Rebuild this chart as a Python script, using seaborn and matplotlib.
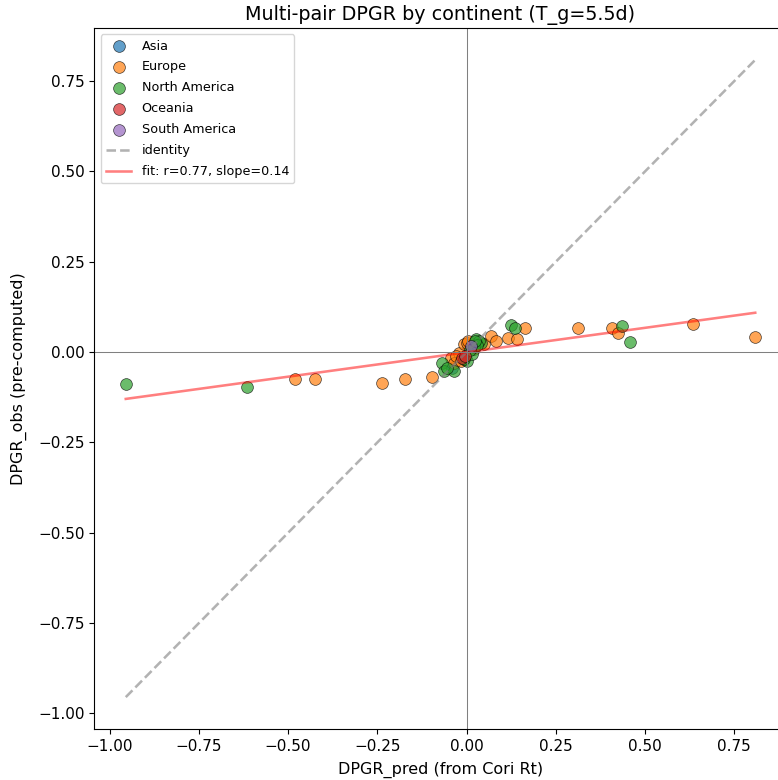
import numpy as np
import matplotlib
matplotlib.use("Agg")
import matplotlib.pyplot as plt
import seaborn as sns

asia_pred = [-0.040, 0.005]
asia_obs = [-0.045, 0.020]

europe_pred = [-0.482, -0.426, -0.237, -0.173, -0.097, -0.043, -0.035, -0.021, -0.007,
               0.000, 0.050, 0.069, 0.083, 0.117, 0.142, 0.165, 0.311, 0.407, 0.424,
               0.635, 0.809, -0.010, 0.020, -0.030, 0.005, -0.015]
europe_obs = [-0.074, -0.074, -0.085, -0.074, -0.068, -0.016, -0.029, -0.002, 0.023,
              0.026, 0.023, 0.046, 0.032, 0.040, 0.037, 0.068, 0.068, 0.068, 0.054,
              0.079, 0.043, -0.020, 0.010, -0.010, 0.030, -0.025]

namerica_pred = [-0.955, -0.614, -0.069, -0.063, -0.035, -0.055, 0.002, 0.016, -0.007,
                 0.027, 0.041, 0.035, 0.125, 0.137, 0.435, 0.457,
                 0.020, 0.030, 0.010, 0.025]
namerica_obs = [-0.088, -0.096, -0.029, -0.052, -0.052, -0.043, -0.024, -0.004, -0.018,
                0.037, 0.026, 0.032, 0.075, 0.068, 0.073, 0.029,
                0.015, 0.020, 0.005, 0.030]

oceania_pred = [-0.012, -0.005]
oceania_obs = [-0.016, -0.010]

samerica_pred = [0.013]
samerica_obs = [0.018]

continents = ["Asia", "Europe", "North America", "Oceania", "South America"]
pred_vals = [asia_pred, europe_pred, namerica_pred, oceania_pred, samerica_pred]
obs_vals = [asia_obs, europe_obs, namerica_obs, oceania_obs, samerica_obs]

# legend text for the fit, as printed on the chart
fit_label = "fit: r=0.77, slope=0.14"

colors = sns.color_palette("tab10", len(continents))

fig = plt.figure(figsize=(7.78, 7.80), dpi=100)
ax = fig.add_axes([0.1212, 0.0654, 0.890, 0.8987])

# scatter each continent
for cont, xs, ys, col in zip(continents, pred_vals, obs_vals, colors):
    sns.scatterplot(x=xs, y=ys, color=col, s=72, alpha=0.7, edgecolor="k",
                    linewidth=0.5, label=cont, legend=False, ax=ax)

all_x = np.concatenate([np.array(v) for v in pred_vals])
all_y = np.concatenate([np.array(v) for v in obs_vals])

# identity line
lims = [min(all_x.min(), all_y.min()), max(all_x.max(), all_y.max())]
ax.plot(lims, lims, "--", color="gray", alpha=0.6, lw=1.85, label="identity")

# linear fit
slope, intercept = np.polyfit(all_x, all_y, 1)
xx = np.array([all_x.min(), all_x.max()])
ax.plot(xx, slope * xx + intercept, color="red", alpha=0.5, lw=1.85, label=fit_label)

ax.axhline(0, color="gray", lw=0.75)
ax.axvline(0, color="gray", lw=0.75)

ax.set_title("Multi-pair DPGR by continent (T_g=5.5d)", fontsize=13.8)
ax.set_xlabel("DPGR_pred (from Cori Rt)", fontsize=11.5, labelpad=6)
ax.set_ylabel("DPGR_obs (pre-computed)", fontsize=11.5, labelpad=8)
ax.tick_params(labelsize=11)
ax.legend(loc="upper left", fontsize=9.2, labelspacing=0.62)

fig.savefig("out.png", dpi=100)
